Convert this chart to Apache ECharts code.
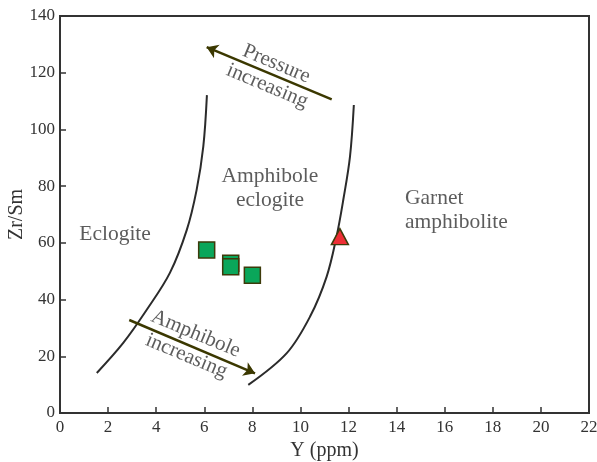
<!DOCTYPE html>
<html>
<head>
<meta charset="utf-8">
<script src="https://cdn.jsdelivr.net/npm/echarts@6/dist/echarts.min.js"></script>
<style>html,body{margin:0;padding:0;background:#fff}#c{width:597px;height:462px}</style>
</head>
<body>
<div id="c"></div>
<script>
// Data
const xTicks = [0, 2, 4, 6, 8, 10, 12, 14, 16, 18, 20, 22];
const yTicks = [0, 20, 40, 60, 80, 100, 120, 140];
const squareSamples = [[6.1, 57.5], [7.1, 52.8], [7.1, 51.6], [8.0, 48.6]];
const triangleSamples = [[11.64, 62.2]];
const leftBoundary = [[1.53, 14.1], [2.63, 24.7], [3.60, 36.3], [4.57, 49.4], [5.27, 64.5], [5.68, 78.6], [5.96, 94.0], [6.11, 112.1]];
const rightBoundary = [[7.83, 9.9], [9.43, 21.1], [10.40, 34.0], [11.09, 48.1], [11.50, 62.2], [11.78, 75.1], [12.06, 90.4], [12.22, 108.6]];
const pressureArrow = [[11.3, 110.6], [6.1, 129.0]];
const amphiboleArrow = [[2.88, 32.8], [8.11, 14.0]];
const fieldLabels = [
  { name: 'Eclogite', value: [2.29, 63.1], align: 'center' },
  { name: 'Amphibole\neclogite', value: [8.73, 79.2], align: 'center' },
  { name: 'Garnet\namphibolite', value: [14.35, 71.6], align: 'left' }
];
const arrowLabels = [
  { name: 'Pressure\nincreasing', value: [8.81, 119.2] },
  { name: 'Amphibole\nincreasing', value: [5.45, 24.0] }
];

const FONT = '"Liberation Serif", "DejaVu Serif", serif';
const TXT = '#333333';
const chart = echarts.init(document.getElementById('c'), null, { renderer: 'canvas' });
chart.setOption({
  animation: false,
  backgroundColor: '#fff',
  grid: { left: 60, right: 8, top: 16, bottom: 49, show: true, borderColor: '#333', borderWidth: 2, containLabel: false, outerBoundsMode: 'none' },
  xAxis: {
    type: 'value', min: xTicks[0], max: xTicks[xTicks.length - 1], interval: 2,
    name: 'Y (ppm)', nameLocation: 'middle', nameGap: 28, nameMoveOverlap: false,
    nameTextStyle: { fontFamily: FONT, fontSize: 20, color: TXT },
    axisLine: { show: true, lineStyle: { color: '#333', width: 2 } },
    axisTick: { show: true, inside: true, length: 6, lineStyle: { color: '#333', width: 1.5 } },
    axisLabel: { fontFamily: FONT, fontSize: 17, color: TXT, margin: 6 },
    splitLine: { show: false }
  },
  yAxis: {
    type: 'value', min: yTicks[0], max: yTicks[yTicks.length - 1], interval: 20,
    name: 'Zr/Sm', nameLocation: 'middle', nameGap: 33, nameMoveOverlap: false,
    nameTextStyle: { fontFamily: FONT, fontSize: 20, color: TXT },
    axisLine: { show: true, lineStyle: { color: '#333', width: 2 } },
    axisTick: { show: true, inside: true, length: 6, lineStyle: { color: '#333', width: 1.5 } },
    axisLabel: { fontFamily: FONT, fontSize: 17, color: TXT, margin: 5 },
    splitLine: { show: false }
  },
  series: [
    { type: 'line', data: leftBoundary, smooth: 0.35, showSymbol: false, lineStyle: { color: '#2b2b2b', width: 2 }, z: 2 },
    { type: 'line', data: rightBoundary, smooth: 0.35, showSymbol: false, lineStyle: { color: '#2b2b2b', width: 2 }, z: 2 },
    {
      type: 'lines', coordinateSystem: 'cartesian2d', z: 3,
      symbol: ['none', 'arrow'], symbolSize: 11,
      lineStyle: { color: '#3b3800', width: 2.5, opacity: 1 },
      data: [{ coords: pressureArrow }, { coords: amphiboleArrow }]
    },
    {
      type: 'scatter', symbol: 'rect', symbolSize: 16, z: 5,
      itemStyle: { color: '#0aa65a', borderColor: '#3d3a0a', borderWidth: 1.5, opacity: 1 },
      data: squareSamples
    },
    {
      type: 'scatter', symbol: 'triangle', symbolSize: [17, 16], z: 5,
      itemStyle: { color: '#ee2f36', borderColor: '#3d3a0a', borderWidth: 1.5, opacity: 1 },
      data: triangleSamples
    },
    {
      type: 'scatter', symbolSize: 0, z: 4, silent: true,
      data: fieldLabels.map(d => ({ value: d.value, name: d.name, label: { align: d.align } })),
      label: { show: true, position: 'inside', formatter: p => p.name, fontFamily: FONT, fontSize: 21.5, lineHeight: 24, color: TXT, verticalAlign: 'middle' }
    },
    {
      type: 'scatter', symbolSize: 0, z: 4, silent: true,
      data: arrowLabels.map(d => ({ value: d.value, name: d.name })),
      label: { show: true, position: 'inside', formatter: p => p.name, rotate: -22.7, fontFamily: FONT, fontSize: 21, lineHeight: 24, color: TXT, align: 'center', verticalAlign: 'middle' }
    }
  ]
});
</script>
</body>
</html>
